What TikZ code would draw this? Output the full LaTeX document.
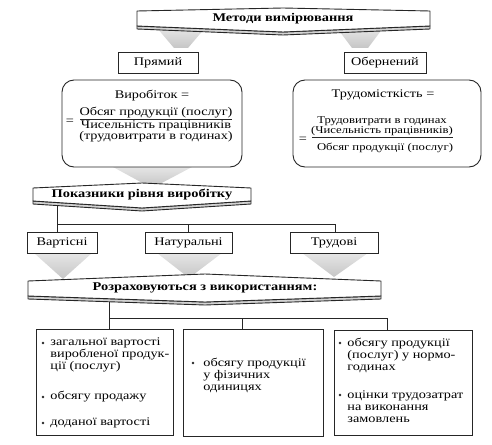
\documentclass[tikz,border=0pt]{standalone}
\usepackage{fontspec}
\setmainfont[FakeStretch=1.22]{Liberation Serif}
\usetikzlibrary{calc}
\newcommand\drawbanner[7]{%
  \path[shadowb] ({#1},{#6}) -- ({#2},{#7}) -- ({#3},{#6}) -- ({#3},{#6+3}) -- ({#2},{#7+3}) -- ({#1},{#6+3}) -- cycle;
  \path[banner] ({#1},{#4}) -- ({#2},{#5}) -- ({#3},{#4}) -- ({#3},{#6}) -- ({#2},{#7}) -- ({#1},{#6}) -- cycle;}
\begin{document}
\begin{tikzpicture}[x=1pt,y=-1pt,
  line width=0.9pt,
  box/.style={draw=black!85, fill=white, inner sep=0pt, font=\fontsize{11.7}{12}\selectfont},
  rbox/.style={draw=black!85, rounded corners=12pt, inner sep=0pt},
  txt/.style={inner sep=0pt, font=\fontsize{11.7}{11}\selectfont, align=center},
  stxt/.style={inner sep=0pt, font=\fontsize{10.4}{10.5}\selectfont, align=center},
  hdr/.style={inner sep=0pt, font=\fontsize{11.8}{13}\selectfont\bfseries},
  funnel/.style={top color=gray!20, bottom color=gray!45, draw=none},
  banner/.style={draw=black!85, fill=white, line join=round},
  shadowb/.style={draw=black!85, fill=gray!35, line join=round},
  link/.style={draw=black!85, line width=0.8pt},
  dot/.style={circle, fill=black!85, inner sep=0pt, minimum size=2.6pt},
  item/.style={anchor=west, inner sep=0pt, align=left, font=\fontsize{11.7}{12}\selectfont}
]
\useasboundingbox (0,0) rectangle (492,444);
% funnels
\path[funnel] (157,28) -- (205,28) -- (188,48) -- (174,48) -- cycle;
\path[funnel] (337,28) -- (383,28) -- (368,48) -- (352,48) -- cycle;
\path[funnel] (113,167) -- (192,167) -- (156,186) -- (148,186) -- cycle;
\path[funnel] (34,253) -- (92,253) -- (63,279) -- cycle;
\path[funnel] (157,253) -- (222,253) -- (189,278) -- cycle;
\path[funnel] (302,253) -- (368,253) -- (334,277) -- cycle;
% banners
\drawbanner{137}{283}{430}{11}{8}{26}{32}
\drawbanner{33}{142}{251}{188}{183}{201}{208}
\drawbanner{28}{205}{381}{281}{274}{296}{302}
\node[hdr] (m) at (283,19) {Методи вимірювання};
\node[hdr] (p) at (142,195) {Показники рівня виробітку};
\node[hdr] (r) at (205,288) {Розраховуються з використанням:};
% method boxes
\node[box, minimum width=80pt, minimum height=21pt] (pr) at (158,62.5) {Прямий};
\node[box, minimum width=82pt, minimum height=21pt] (ob) at (385,62.5) {Обернений};
\node[rbox, minimum width=180pt, minimum height=87pt] (rl) at (152,123.5) {};
\node[rbox, minimum width=188pt, minimum height=87pt] (rr) at (387,123.5) {};
\draw[link] ($(pr.south west)+(6,0)$) -- ($(pr.south west)+(6,0)$ |- rl.north);
\draw[link] ($(pr.south east)+(-7,0)$) -- ($(pr.south east)+(-7,0)$ |- rl.north);
\draw[link] ($(ob.south west)+(6,0)$) -- ($(ob.south west)+(6,0)$ |- rr.north);
\draw[link] ($(ob.south east)+(-11,0)$) -- ($(ob.south east)+(-11,0)$ |- rr.north);
% formulas
\node[txt] (vy) at (152,96) {Виробіток =};
\node[txt] (vn) at (156,113) {Обсяг продукції (послуг)};
\node[txt] (vd) at (156,131) {Чисельність працівників\\(трудовитрати в годинах)};
\draw[link] (80,119.5) -- (232,119.5);
\node[txt] (veq) at (70,122) {=};
\node[txt] (tr) at (383,95) {Трудомісткість =};
\node[stxt] (tn) at (382,126) {Трудовитрати в годинах\\(Чисельність працівників)};
\draw[link] (312,137) -- (453,137);
\node[stxt] (td) at (385,148) {Обсяг продукції (послуг)};
\node[txt] (teq) at (303,140) {=};
% indicator boxes
\node[box, minimum width=70pt, minimum height=21pt] (va) at (62,242.5) {Вартісні};
\node[box, minimum width=87pt, minimum height=21pt] (na) at (188.5,242.5) {Натуральні};
\node[box, minimum width=88pt, minimum height=21pt] (tu) at (334,242.5) {Трудові};
\coordinate (pj) at (57,205);
\coordinate (hl) at (57,224);
\coordinate (hr) at (335,224);
\draw[link] (pj) -- (pj |- va.north);
\draw[link] (hl) -- (hr) -- (hr |- tu.north);
\draw[link] (na.north |- hl) -- (na.north);
% bottom boxes
\node[box, minimum width=137pt, minimum height=106pt] (b1) at (104.5,382) {};
\node[box, minimum width=140pt, minimum height=107pt] (b2) at (253,382.5) {};
\node[box, minimum width=138pt, minimum height=105pt] (b3) at (403,382.5) {};
\coordinate (rj) at (109,302);
\coordinate (bl) at (109,318);
\coordinate (br) at (387,318);
\coordinate (bm) at (242,318);
\draw[link] (rj) -- (rj |- b1.north);
\draw[link] (bl) -- (br) -- (br |- b3.north);
\draw[link] (bm) -- (bm |- b2.north);
% items
\node[dot] (d1) at (43,343) {};
\node[item] (i1) at (50,355) {загальної вартості\\виробленої продук-\\ції (послуг)};
\node[dot] (d2) at (43,397) {};
\node[item] (i2) at (50,397) {обсягу продажу};
\node[dot] (d3) at (43,423) {};
\node[item] (i3) at (50,423) {доданої вартості};
\node[dot] (d4) at (193,363) {};
\node[item] (i4) at (203,375) {обсягу продукції\\у фізичних\\одиницях};
\node[dot] (d5) at (340,343) {};
\node[item] (i5) at (347,355) {обсягу продукції\\(послуг) у нормо-\\годинах};
\node[dot] (d6) at (340,395) {};
\node[item] (i6) at (347,407) {оцінки трудозатрат\\на виконання\\замовлень};
\end{tikzpicture}
\end{document}
